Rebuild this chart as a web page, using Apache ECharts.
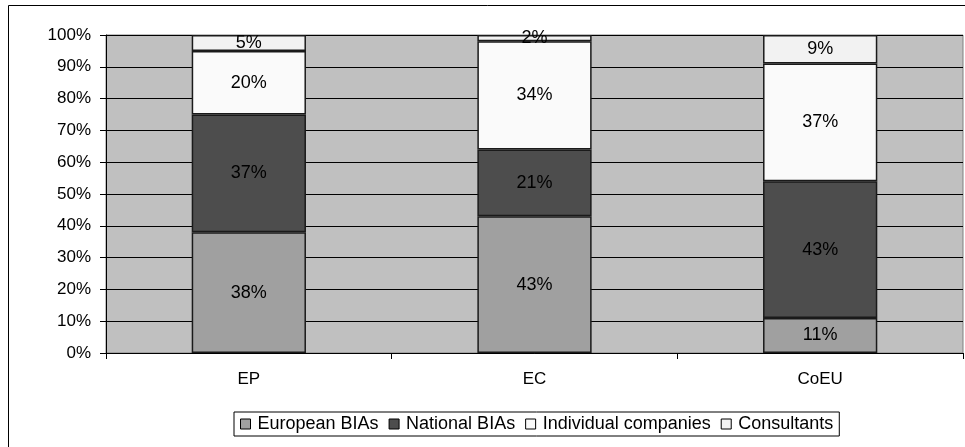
<!DOCTYPE html>
<html>
<head>
<meta charset="utf-8">
<script src="https://cdn.jsdelivr.net/npm/echarts@6/dist/echarts.min.js"></script>
<style>
  html, body { margin: 0; padding: 0; background: #fff; }
  #chart { width: 965px; height: 447px; }
</style>
</head>
<body>
<div id="chart"></div>
<script>
var categories = ['EP', 'EC', 'CoEU'];
var europeanBIAs = [38, 43, 11];
var nationalBIAs = [37, 21, 43];
var individualCompanies = [20, 34, 37];
var consultants = [5, 2, 9];
var yTicks = [0, 10, 20, 30, 40, 50, 60, 70, 80, 90, 100];

function bar(name, data, color) {
	return {
		name: name,
		type: 'bar',
		stack: 'total',
		barWidth: '40%',
		data: data,
		itemStyle: { color: color, borderColor: '#1a1a1a', borderWidth: 1.5 },
		label: {
			show: true,
			position: 'inside',
			formatter: '{c}%',
			color: '#000',
			fontSize: 18,
			fontFamily: 'Liberation Sans, Arial, sans-serif'
		},
		emphasis: { disabled: true }
	};
}

var myChart = echarts.init(document.getElementById('chart'));
var option = {
	animation: false,
	textStyle: { fontFamily: 'Liberation Sans, Arial, sans-serif' },
	graphic: [{
		type: 'rect',
		shape: { x: 8.5, y: 5.5, width: 1000, height: 460 },
		style: { fill: 'none', stroke: '#000', lineWidth: 1 },
		z: -10
	}],
	grid: {
		left: 106, right: 2, top: 35, bottom: 94,
		show: true,
		backgroundColor: '#c0c0c0',
		borderColor: '#808080',
		borderWidth: 1
	},
	legend: {
		left: 234,
		top: 412,
		data: ['European BIAs', 'National BIAs', 'Individual companies', 'Consultants'],
		icon: 'rect',
		itemWidth: 10,
		itemHeight: 10,
		itemGap: 10,
		padding: [3, 6, 3, 6],
		borderColor: '#000',
		borderWidth: 1,
		itemStyle: { borderColor: '#000', borderWidth: 1 },
		textStyle: { fontSize: 18, color: '#000', padding: [0, 0, 0, 2] }
	},
	xAxis: {
		type: 'category',
		data: categories,
		axisLine: { lineStyle: { color: '#000' } },
		axisTick: { show: true, length: 6, lineStyle: { color: '#000' } },
		axisLabel: { color: '#000', fontSize: 17, margin: 18 }
	},
	yAxis: {
		type: 'value',
		min: yTicks[0],
		max: yTicks[yTicks.length - 1],
		interval: 10,
		axisLine: { show: true, lineStyle: { color: '#000' } },
		axisTick: { show: true, length: 6, lineStyle: { color: '#000' } },
		axisLabel: { color: '#000', fontSize: 17, margin: 15, formatter: '{value}%' },
		splitLine: { lineStyle: { color: '#000', width: 1 } }
	},
	series: [
		bar('European BIAs', europeanBIAs, '#a0a0a0'),
		bar('National BIAs', nationalBIAs, '#4d4d4d'),
		bar('Individual companies', individualCompanies, '#fafafa'),
		bar('Consultants', consultants, '#f2f2f2')
	]
};
myChart.setOption(option);
</script>
</body>
</html>
